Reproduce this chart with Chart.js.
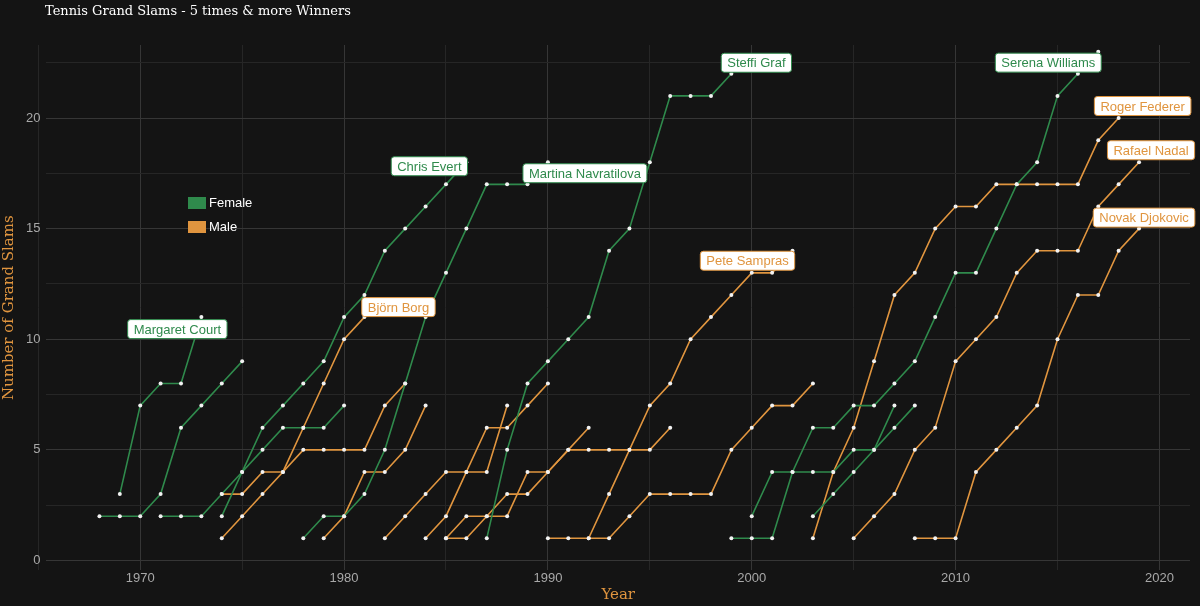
<!DOCTYPE html>
<html>
<head>
<meta charset="utf-8">
<script src="https://cdn.jsdelivr.net/npm/chart.js@4"></script>
<style>
  html, body { margin: 0; padding: 0; background: #141414; }
  #wrap { width: 1200px; height: 606px; }
</style>
</head>
<body>
<div id="wrap"><canvas id="slams"></canvas></div>
<script>
// cumulative grand slams per year, one value per consecutive year from the start year
var court = { name: "Margaret Court", sex: "F", start: 1969, slams: [3, 7, 8, 8, 11] };
var king = { name: "Billie Jean King", sex: "F", start: 1968, slams: [2, 2, 2, 3, 6, 7, 8, 9] };
var goolagong = { name: "Evonne Goolagong", sex: "F", start: 1971, slams: [2, 2, 2, 3, 4, 5, 6, 6, 6, 7] };
var evert = { name: "Chris Evert", sex: "F", start: 1974, slams: [2, 4, 6, 7, 8, 9, 11, 12, 14, 15, 16, 17, 18] };
var navratilova = { name: "Martina Navratilova", sex: "F", start: 1978, slams: [1, 2, 2, 3, 5, 8, 11, 13, 15, 17, 17, 17, 18] };
var graf = { name: "Steffi Graf", sex: "F", start: 1987, slams: [1, 5, 8, 9, 10, 11, 14, 15, 18, 21, 21, 21, 22] };
var serena = { name: "Serena Williams", sex: "F", start: 1999, slams: [1, 1, 1, 4, 6, 6, 7, 7, 8, 9, 11, 13, 13, 15, 17, 18, 21, 22, 23] };
var venus = { name: "Venus Williams", sex: "F", start: 2000, slams: [2, 4, 4, 4, 4, 5, 5, 6, 7] };
var henin = { name: "Justine Henin", sex: "F", start: 2003, slams: [2, 3, 4, 5, 7] };

var connors = { name: "Jimmy Connors", sex: "M", start: 1974, slams: [3, 3, 4, 4, 5, 5, 5, 5, 7, 8] };
var borg = { name: "Björn Borg", sex: "M", start: 1974, slams: [1, 2, 3, 4, 6, 8, 10, 11] };
var mcenroe = { name: "John McEnroe", sex: "M", start: 1979, slams: [1, 2, 4, 4, 5, 7] };
var wilander = { name: "Mats Wilander", sex: "M", start: 1982, slams: [1, 2, 3, 4, 4, 4, 7] };
var lendl = { name: "Ivan Lendl", sex: "M", start: 1984, slams: [1, 2, 4, 6, 6, 7, 8] };
var edberg = { name: "Stefan Edberg", sex: "M", start: 1985, slams: [1, 1, 2, 3, 3, 4, 5, 6] };
var becker = { name: "Boris Becker", sex: "M", start: 1985, slams: [1, 2, 2, 2, 4, 4, 5, 5, 5, 5, 5, 6] };
var sampras = { name: "Pete Sampras", sex: "M", start: 1990, slams: [1, 1, 1, 3, 5, 7, 8, 10, 11, 12, 13, 13, 14] };
var agassi = { name: "Andre Agassi", sex: "M", start: 1992, slams: [1, 1, 2, 3, 3, 3, 3, 5, 6, 7, 7, 8] };
var federer = { name: "Roger Federer", sex: "M", start: 2003, slams: [1, 4, 6, 9, 12, 13, 15, 16, 16, 17, 17, 17, 17, 17, 19, 20] };
var nadal = { name: "Rafael Nadal", sex: "M", start: 2005, slams: [1, 2, 3, 5, 6, 9, 10, 11, 13, 14, 14, 14, 16, 17, 18] };
var djokovic = { name: "Novak Djokovic", sex: "M", start: 2008, slams: [1, 1, 1, 4, 5, 6, 7, 10, 12, 12, 14, 15] };

var players = [court, king, goolagong, evert, navratilova, graf, serena, venus, henin,
  connors, borg, mcenroe, wilander, lendl, edberg, becker, sampras, agassi, federer, nadal, djokovic];

var xTicks = [1970, 1980, 1990, 2000, 2010, 2020];
var yTicks = [0, 5, 10, 15, 20];

// players that get a name box, with a pixel nudge from their last point
var labelled = {
  "Margaret Court": [-24, 12], "Chris Evert": [-37, 4], "Björn Borg": [34, -10],
  "Martina Navratilova": [37, 11], "Steffi Graf": [25, -11], "Pete Sampras": [-45, 10],
  "Serena Williams": [-50, 11], "Roger Federer": [24, -12], "Rafael Nadal": [12, -12],
  "Novak Djokovic": [5, -11]
};

var GREEN = "#2f8a4c";
var ORANGE = "#e0953f";

var datasets = players.map(function (p) {
  var col = p.sex === "F" ? GREEN : ORANGE;
  return {
    label: p.name,
    data: p.slams.map(function (v, i) { return { x: p.start + i, y: v }; }),
    borderColor: col,
    borderWidth: 1.6,
    pointRadius: 2,
    pointBackgroundColor: "#f2f2f2",
    pointBorderColor: "#f2f2f2",
    pointBorderWidth: 0,
    tension: 0
  };
});

var nameBoxes = {
  id: "nameBoxes",
  afterDatasetsDraw: function (chart) {
    var ctx = chart.ctx;
    var xs = chart.scales.x, ys = chart.scales.y;
    ctx.save();
    ctx.font = "13px 'DejaVu Serif', serif";
    ctx.fillStyle = "#ffffff";
    ctx.textBaseline = "middle";
    ctx.fillText("Tennis Grand Slams - 5 times & more Winners", 45, 12);

    ctx.font = "13px 'Liberation Sans', Arial, sans-serif";
    ctx.textAlign = "center";
    players.forEach(function (p) {
      var off = labelled[p.name];
      if (!off) return;
      var last = p.slams.length - 1;
      var cx = xs.getPixelForValue(p.start + last) + off[0];
      var cy = ys.getPixelForValue(p.slams[last]) + off[1];
      var w = ctx.measureText(p.name).width + 12, h = 19;
      var col = p.sex === "F" ? GREEN : ORANGE;
      ctx.beginPath();
      ctx.roundRect(cx - w / 2, cy - h / 2, w, h, 3);
      ctx.fillStyle = "#ffffff";
      ctx.fill();
      ctx.strokeStyle = col;
      ctx.lineWidth = 1;
      ctx.stroke();
      ctx.fillStyle = col;
      ctx.fillText(p.name, cx, cy + 1);
    });
    // legend
    var items = [["Female", GREEN], ["Male", ORANGE]];
    items.forEach(function (it, i) {
      var y = 203 + i * 24;
      ctx.fillStyle = it[1];
      ctx.fillRect(188, y - 6, 18, 12);
      ctx.fillStyle = "#ffffff";
      ctx.textAlign = "left";
      ctx.fillText(it[0], 209, y);
    });
    ctx.restore();
  }
};

function gridColour(major) {
  return function (c) {
    return major.indexOf(c.tick.value) >= 0 ? "#363636" : "#262626";
  };
}

new Chart(document.getElementById("slams"), {
  type: "line",
  data: { datasets: datasets },
  plugins: [nameBoxes],
  options: {
    responsive: true,
    maintainAspectRatio: false,
    animation: false,
    layout: { padding: { left: 0, right: 10, top: 45, bottom: 2 } },
    plugins: {
      legend: { display: false },
      tooltip: { enabled: false },
      title: { display: false }
    },
    scales: {
      x: {
        type: "linear",
        min: 1965.4,
        max: 2021.5,
        afterBuildTicks: function (s) {
          var t = [];
          for (var v = 1965; v <= 2020; v += 5) t.push({ value: v });
          s.ticks = t;
        },
        ticks: {
          color: "#a8a8a8",
          font: { size: 13 },
          padding: 0,
          callback: function (v) { return xTicks.indexOf(v) >= 0 ? v : ""; }
        },
        grid: { color: gridColour(xTicks), drawTicks: false, tickLength: 0 },
        border: { display: false },
        title: {
          display: true, text: "Year", color: ORANGE,
          font: { family: "'DejaVu Serif', serif", size: 15 }, padding: { top: 0, bottom: 0 }
        }
      },
      y: {
        min: -0.45,
        max: 23.3,
        afterBuildTicks: function (s) {
          var t = [];
          for (var v = 0; v <= 22.5; v += 2.5) t.push({ value: v });
          s.ticks = t;
        },
        ticks: {
          color: "#a8a8a8",
          font: { size: 13 },
          padding: 6,
          callback: function (v) { return yTicks.indexOf(v) >= 0 ? v : ""; }
        },
        grid: { color: gridColour(yTicks), drawTicks: false, tickLength: 0 },
        border: { display: false },
        title: {
          display: true, text: "Number of Grand Slams", color: ORANGE,
          font: { family: "'DejaVu Serif', serif", size: 15 }, padding: { top: 0, bottom: 2 }
        }
      }
    }
  }
});
</script>
</body>
</html>
